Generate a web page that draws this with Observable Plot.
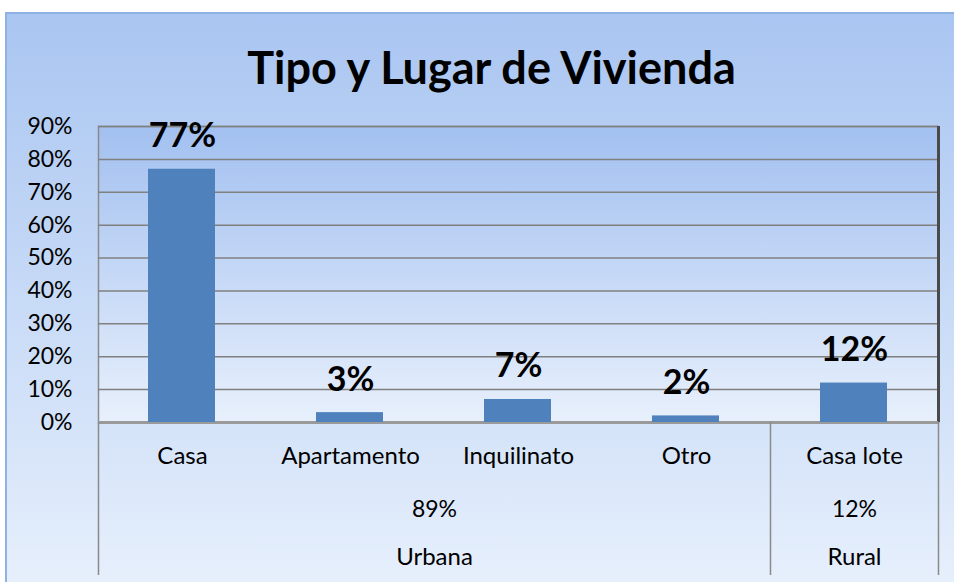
<!DOCTYPE html>
<html>
<head>
<meta charset="utf-8">
<script src="https://cdn.jsdelivr.net/npm/d3@7"></script>
<script src="https://cdn.jsdelivr.net/npm/@observablehq/plot@0.6"></script>
<style>
  html, body { margin: 0; padding: 0; background: #ffffff; width: 954px; height: 582px; overflow: hidden; }
  #chart {
    position: absolute; left: 5px; top: 12px; width: 949px; height: 570px;
    box-sizing: border-box;
    border-top: 2px solid #8fb2e4; border-left: 2px solid #8fb2e4;
    background: linear-gradient(to bottom, #a9c5f1 0%, #c4d8f6 45%, #e6effc 100%);
    font-family: Lato, "Open Sans", sans-serif;
  }
  #title {
    position: absolute; left: 0; top: 0; width: 949px; height: 96px;
    text-align: center; font-weight: bold; font-size: 45px; line-height: 106px;
    padding-left: 20px; box-sizing: border-box; color: #000;
  }
  #plot { position: absolute; left: -2px; top: 94px; }
</style>
</head>
<body>
<div id="chart">
  <div id="title">Tipo y Lugar de Vivienda</div>
  <div id="plot"></div>
</div>
<script>
const categories = ["Casa", "Apartamento", "Inquilinato", "Otro", "Casa lote"];
const values = [77, 3, 7, 2, 12];
const groups = ["Urbana", "Rural"];
const groupTotals = ["89%", "12%"];
const groupStart = [0, 4];
const groupEnd = [4, 5];
const yTicks = [0, 10, 20, 30, 40, 50, 60, 70, 80, 90];

const bars = categories.map((c, i) => ({cat: c, i, v: values[i]}));
const grp = groups.map((g, k) => ({name: g, total: groupTotals[k], s: groupStart[k], e: groupEnd[k]}));
const seps = [0, ...groupEnd];

const svg = Plot.plot({
  width: 949,
  height: 474,
  marginLeft: 93,
  marginRight: 16,
  marginTop: 18,
  marginBottom: 160,
  style: {background: "transparent", fontFamily: "Lato, 'Open Sans', sans-serif", overflow: "visible"},
  x: {domain: [0, categories.length], axis: null},
  y: {domain: [0, 90], ticks: yTicks, tickFormat: d => d + "%", label: null, tickSize: 0, tickPadding: 26},
  marks: [
    Plot.frame({fill: "#b8cff4", stroke: "#8a8a8a", strokeWidth: 1.5}),
    Plot.gridY(yTicks, {stroke: "#808080", strokeOpacity: 1, strokeWidth: 1.5}),
    Plot.ruleX([categories.length], {stroke: "#4a4a4a", strokeWidth: 3}),
    Plot.ruleY([0], {stroke: "#9a9a9a", strokeWidth: 3}),
    Plot.rectY(bars, {x1: "i", x2: d => d.i + 1, y: "v", fill: "#4f81bd", insetLeft: 50, insetRight: 51}),
    Plot.text(bars, {x: d => d.i + 0.5, y: "v", text: d => d.v + "%", dy: -33, fontSize: 34, fontWeight: "bold", fill: "#000"}),
    Plot.ruleX(seps, {x: d => d, y1: 0, y2: 0, insetBottom: -153, stroke: "#8a8a8a", strokeWidth: 1.5}),
    Plot.text(bars, {x: d => d.i + 0.5, y: 0, text: "cat", dy: 34, fontSize: 24, fill: "#000"}),
    Plot.text(grp, {x: d => (d.s + d.e) / 2, y: 0, text: "total", dy: 87, fontSize: 23, fill: "#000"}),
    Plot.text(grp, {x: d => (d.s + d.e) / 2, y: 0, text: "name", dy: 135, fontSize: 24, fill: "#000"})
  ]
});

const s = d3.select(svg);
const defs = s.insert("defs", ":first-child");
const lg = defs.append("linearGradient").attr("id", "plotgrad").attr("x1", 0).attr("y1", 0).attr("x2", 0).attr("y2", 1);
lg.append("stop").attr("offset", "0%").attr("stop-color", "#a2c0f0");
lg.append("stop").attr("offset", "100%").attr("stop-color", "#e8f0fc");
s.select('[aria-label="frame"]').attr("fill", "url(#plotgrad)");
s.selectAll('[aria-label="frame"] rect').attr("fill", "url(#plotgrad)");
s.selectAll('[aria-label="y-axis tick label"] text').attr("font-size", 23).attr("fill", "#000");
s.select('[aria-label="y-axis tick label"]').attr("font-size", 23).attr("fill", "#000");

document.getElementById("plot").appendChild(svg);
</script>
</body>
</html>
